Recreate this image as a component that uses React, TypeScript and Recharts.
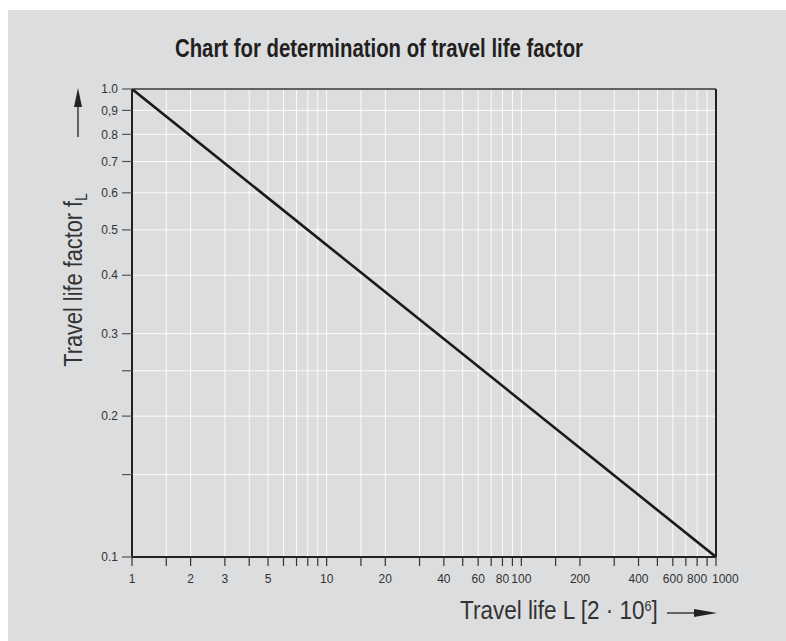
import React from "react";
import {
  LineChart,
  Line,
  XAxis,
  YAxis,
  CartesianGrid,
  ReferenceLine,
} from "recharts";

// Travel life L [2·10^6]
const travelLife = [1, 1000];
// Travel life factor fL
const lifeFactor = [1.0, 0.1];

const xTicks = [1, 1.5, 2, 3, 4, 5, 6, 7, 8, 9, 10, 15, 20, 30, 40, 50, 60, 70, 80, 90, 100, 150, 200, 300, 400, 500, 600, 700, 800, 900, 1000];
const xTickLabels = ["1", "", "2", "3", "", "5", "", "", "", "", "10", "", "20", "", "40", "", "60", "", "80", "", "100", "", "200", "", "400", "", "600", "", "800", "", "1000"];

const yTicks = [0.1, 0.15, 0.2, 0.25, 0.3, 0.4, 0.5, 0.6, 0.7, 0.8, 0.9, 1.0];
const yTickLabels = ["0.1", "", "0.2", "", "0.3", "0.4", "0.5", "0.6", "0.7", "0.8", "0,9", "1.0"];

const data = travelLife.map((L, i) => ({ L, f: lifeFactor[i] }));

const W = 778;
const H = 631;
const BG = "#dcdddf";
const SANS = "Liberation Sans, Arial, Helvetica, sans-serif";

const yFmt = (v: number) => {
  const i = yTicks.findIndex((t) => Math.abs(t - v) < 1e-9);
  return i >= 0 ? yTickLabels[i] : "";
};

const XTick = (props: any) => {
  const { x, y, payload } = props;
  const i = xTicks.indexOf(payload.value);
  const label = i >= 0 ? xTickLabels[i] : "";
  if (!label) return <g />;
  const isLast = i === xTicks.length - 1;
  return (
    <text
      x={isLast ? x - 4 : x}
      y={y}
      dy="0.71em"
      textAnchor={isLast ? "start" : "middle"}
      fill="#333"
      fontSize={12}
      fontFamily={SANS}
    >
      {label}
    </text>
  );
};

export default function App() {
  return (
    <div
      style={{
        position: "absolute",
        left: 8,
        top: 10,
        width: W,
        height: H,
        background: BG,
      }}
    >
      <LineChart
        width={W}
        height={H}
        data={data}
        margin={{ top: 79, right: 70, bottom: 54, left: 0 }}
      >
        <CartesianGrid stroke="#ffffff" strokeWidth={1} strokeOpacity={0.9} />
        <XAxis
          dataKey="L"
          type="number"
          scale="log"
          domain={[1, 1000]}
          ticks={xTicks}
          interval={0}
          height={30}
          tickSize={9}
          tickMargin={8}
          axisLine={{ stroke: "#222", strokeWidth: 2 }}
          tickLine={{ stroke: "#333", strokeWidth: 1.2 }}
          tick={<XTick />}
          allowDataOverflow
        />
        <YAxis
          dataKey="f"
          type="number"
          scale="log"
          domain={[0.1, 1]}
          ticks={yTicks}
          interval={0}
          tickFormatter={yFmt}
          width={124}
          tickSize={10}
          tickMargin={4}
          axisLine={{ stroke: "#222", strokeWidth: 2 }}
          tickLine={{ stroke: "#555", strokeWidth: 1.2 }}
          tick={{ fill: "#333", fontSize: 12, fontFamily: SANS }}
          allowDataOverflow
        />
        <ReferenceLine y={1} stroke="#333" strokeWidth={1.5} ifOverflow="visible" />
        <ReferenceLine x={1000} stroke="#222" strokeWidth={2} ifOverflow="visible" />
        <Line
          dataKey="f"
          stroke="#1a1a1a"
          strokeWidth={2.6}
          dot={false}
          isAnimationActive={false}
        />
      </LineChart>
      <svg
        width={W}
        height={H}
        style={{ position: "absolute", left: 0, top: 0, pointerEvents: "none" }}
      >
        <text
          transform="translate(167,47) scale(0.814,1)"
          x={0}
          y={0}
          fontFamily={SANS}
          fontWeight="bold"
          fontSize={25}
          fill="#231f20"
        >
          Chart for determination of travel life factor
        </text>
        <text
          transform="translate(74,270) rotate(-90) scale(0.87,1)"
          x={0}
          y={0}
          textAnchor="middle"
          fontFamily={SANS}
          fontSize={25}
          fill="#333"
        >
          Travel life factor f
          <tspan fontSize={16} dy={5}>L</tspan>
        </text>
        <text
          transform="translate(452,609) scale(0.9,1)"
          x={0}
          y={0}
          fontFamily={SANS}
          fontSize={25}
          fill="#333"
        >
          Travel life L [2 · 10
          <tspan fontSize={14} dy={-8}>6</tspan>
          <tspan dy={8}>]</tspan>
        </text>
        <line x1={659} y1={603} x2={690} y2={603} stroke="#222" strokeWidth={1.3} />
        <polygon points="686,599 709,603 686,607" fill="#222" />
        <line x1={70} y1={127} x2={70} y2={96} stroke="#222" strokeWidth={1.3} />
        <polygon points="66,97 70,78 74,97" fill="#222" />
      </svg>
    </div>
  );
}
